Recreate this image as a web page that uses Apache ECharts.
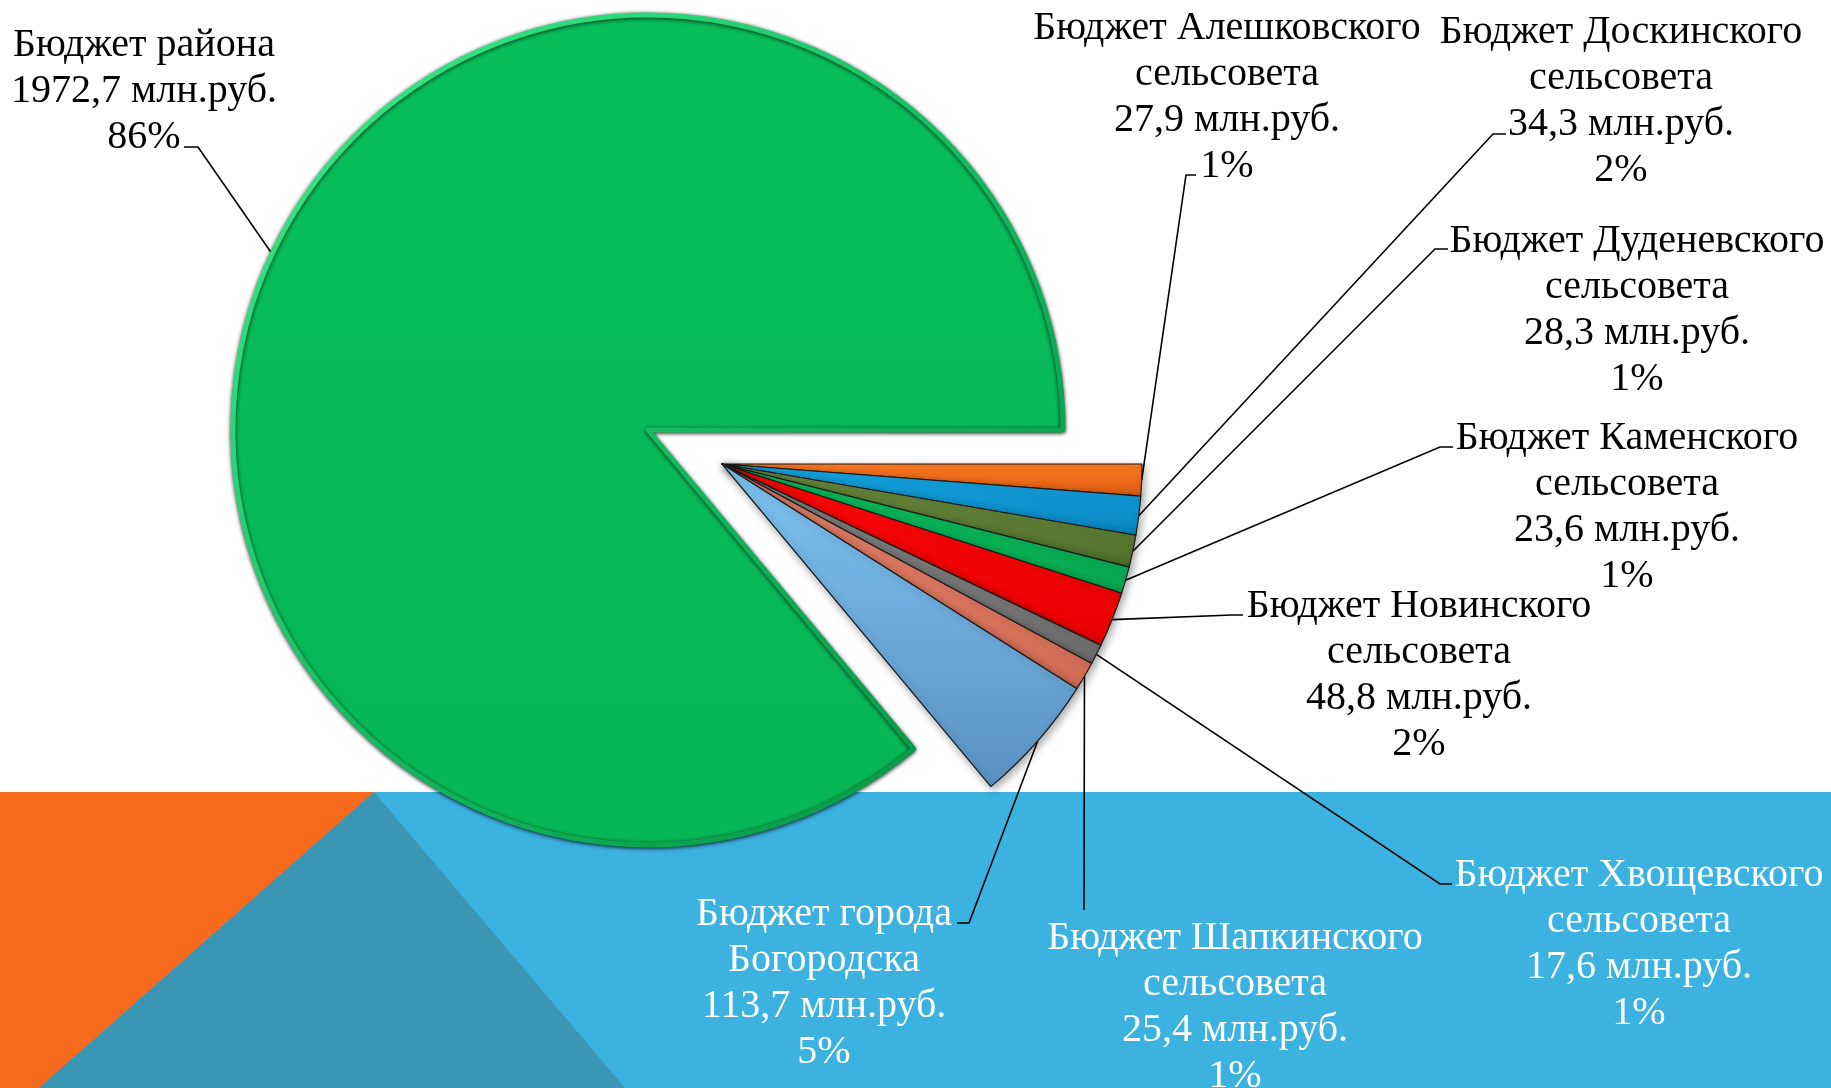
<!DOCTYPE html>
<html>
<head>
<meta charset="utf-8">
<title>Бюджеты</title>
<script src="https://cdn.jsdelivr.net/npm/echarts@6/dist/echarts.min.js"></script>
<style>
  html, body { margin: 0; padding: 0; background: #fff; }
  #chart { width: 1831px; height: 1088px; }
</style>
</head>
<body>
<div id="chart"></div>
<script>
// названия бюджетов (по часовой стрелке от горизонтали)
const names = [
  "Бюджет Алешковского\nсельсовета",
  "Бюджет Доскинского\nсельсовета",
  "Бюджет Дуденевского\nсельсовета",
  "Бюджет Каменского\nсельсовета",
  "Бюджет Новинского\nсельсовета",
  "Бюджет Хвощевского\nсельсовета",
  "Бюджет Шапкинского\nсельсовета",
  "Бюджет города\nБогородска",
  "Бюджет района",
];
// млн.руб.
const values = [27.9, 34.3, 28.3, 23.6, 48.8, 17.6, 25.4, 113.7, 1972.7];

// индекс выдвинутого сектора (бюджет района)
const BIG = 8;

// цвета секторов: верх / низ градиента
const colors = [
  ["#FF7B22", "#DD5C12"],
  ["#16A7E5", "#0A85C0"],
  ["#6B8B3D", "#51702D"],
  ["#0AC25C", "#06A64E"],
  ["#FF0808", "#E60000"],
  ["#8A8A8A", "#6C6C6C"],
  ["#E9846B", "#D26B54"],
  ["#7EC2F1", "#5A92C2"],
  ["#08BE59", "#07B655"],
];
// подписи на синей полосе белые
const labelColors = ["#000", "#000", "#000", "#000", "#000", "#fff", "#fff", "#fff", "#000"];
// центр блока подписи
const labelPos = [
  [1227, 97], [1621, 101], [1637, 310], [1627, 507], [1419, 675],
  [1639, 944], [1235, 1007], [824, 983], [144, 91],
];
// излом и конец линии выноски у текста
const guideEnds = [
  [[1186, 175], [1196, 175]],
  [[1493, 134], [1506, 134]],
  [[1435, 249], [1448, 249]],
  [[1440, 447], [1453, 447]],
  [[1232, 615], [1243, 615]],
  [[1440, 884], [1452, 884]],
  [[1084, 905], [1084, 910]],
  [[969, 923], [957, 923]],
  [[198, 147], [184, 147]],
];

const myEcharts = echarts.init(document.getElementById("chart"));

function fmt(p) {
  return p.name + "\n" + String(p.value).replace(".", ",") + " млн.руб.\n" + p.percent + "%";
}

// showBig: true - только сектор района, false - остальные
function buildData(showBig) {
  return names.map((name, i) => {
    const visible = (i === BIG) === showBig;
    let style = { opacity: 0 };
    if (visible) {
      style = {
        color: new echarts.graphic.LinearGradient(0, 0, 0, 1, [
          { offset: 0, color: colors[i][0] },
          { offset: 1, color: colors[i][1] },
        ]),
      };
      if (i === BIG) {
        // светлый кант сверху, тёмный снизу
        style.borderWidth = 5;
        style.borderColor = new echarts.graphic.LinearGradient(0, 0, 1, 1, [
          { offset: 0, color: "#3FF08C" },
          { offset: 0.55, color: "#12B85E" },
          { offset: 1, color: "#058E40" },
        ]);
        style.shadowBlur = 4;
        style.shadowColor = "rgba(0,0,0,0.75)";
        style.shadowOffsetX = 0;
        style.shadowOffsetY = 1;
      }
    }
    return {
      name: name,
      value: values[i],
      itemStyle: style,
      label: { show: visible, color: labelColors[i] },
      labelLine: { show: visible },
    };
  });
}

function makeSeries(center, radius, showBig) {
  return {
    type: "pie",
    center: center,
    radius: radius,
    startAngle: 0,
    clockwise: true,
    avoidLabelOverlap: false,
    percentPrecision: 0,
    emphasis: { disabled: true },
    itemStyle: {
      borderColor: "#1a1a1a",
      borderWidth: 1.2,
      shadowBlur: 8,
      shadowColor: "rgba(0,0,0,0.35)",
      shadowOffsetX: 2,
      shadowOffsetY: 3,
    },
    label: {
      position: "outside",
      fontFamily: "Liberation Serif",
      fontSize: 40,
      lineHeight: 46,
      width: 540,
      align: "center",
      formatter: fmt,
    },
    labelLine: {
      lineStyle: { color: "#000", width: 1.6 },
    },
    labelLayout: (params) => {
      const i = params.dataIndex;
      const pts = params.labelLinePoints;
      return {
        x: labelPos[i][0],
        y: labelPos[i][1],
        align: "center",
        verticalAlign: "middle",
        labelLinePoints: pts ? [pts[0], guideEnds[i][0], guideEnds[i][1]] : undefined,
      };
    },
    data: buildData(showBig),
  };
}

const option = {
  animation: false,
  backgroundColor: "#fff",
  graphic: [
    { type: "rect", z: -10, shape: { x: 0, y: 792, width: 1831, height: 296 }, style: { fill: "#3BB2E0" } },
    { type: "polygon", z: -9, shape: { points: [[0, 792], [374, 792], [39, 1088], [0, 1088]] }, style: { fill: "#F7691C" } },
    { type: "polygon", z: -9, shape: { points: [[374, 792], [39, 1088], [625, 1088]] }, style: { fill: "#3A96B4" } },
  ],
  series: [makeSeries([722, 464], 420, false), makeSeries([648, 430], 415, true)],
};

myEcharts.setOption(option);
</script>
</body>
</html>
